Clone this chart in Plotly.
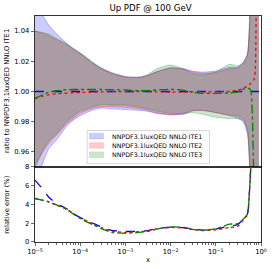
import plotly.graph_objects as go
from plotly.subplots import make_subplots

# ---------------- data ----------------
x = [1e-5, 1.5e-5, 2e-5, 3e-5, 5e-5, 7e-5, 1e-4, 2e-4, 3e-4, 5e-4, 1e-3, 2e-3, 3e-3, 5e-3,
     1e-2, 2e-2, 3e-2, 5e-2, 0.1, 0.2, 0.3, 0.4, 0.5, 0.55, 0.6, 0.7, 0.75, 0.8, 0.9]

ite1_up = [1.060, 1.050, 1.044, 1.038, 1.032, 1.0285, 1.0255, 1.0185, 1.0155, 1.0125, 1.0100, 1.0095, 1.0105, 1.0132,
           1.0158, 1.0150, 1.0135, 1.0128, 1.0135, 1.0160, 1.0160, 1.0190, 1.0250, 1.042, 1.08, 1.16, 1.22, 1.30, 1.50]
ite1_lo = [0.940, 0.953, 0.962, 0.968, 0.977, 0.981, 0.984, 0.988, 0.989, 0.9885, 0.988, 0.9875, 0.987, 0.9855,
           0.9845, 0.985, 0.987, 0.9875, 0.986, 0.984, 0.9825, 0.980, 0.972, 0.955, 0.920, 0.840, 0.780, 0.700, 0.500]
ite1_c = [1.0] * len(x)

ite2_up = [1.040, 1.0385, 1.037, 1.0345, 1.031, 1.028, 1.025, 1.018, 1.015, 1.012, 1.0095, 1.0092, 1.0103, 1.013,
           1.0155, 1.0145, 1.013, 1.012, 1.0125, 1.015, 1.0155, 1.018, 1.024, 1.040, 1.070, 1.150, 1.22, 1.30, 1.50]
ite2_lo = [0.950, 0.960, 0.9653, 0.971, 0.9785, 0.982, 0.9855, 0.989, 0.990, 0.990, 0.9895, 0.9885, 0.9875, 0.9857,
           0.9846, 0.9855, 0.9875, 0.9875, 0.986, 0.9845, 0.984, 0.982, 0.975, 0.960, 0.930, 0.850, 0.780, 0.700, 0.500]
ite2_c = [0.9957, 0.997, 0.9978, 0.9985, 0.9989, 0.9991, 0.9993, 0.9996, 0.9998, 0.9999, 1.0, 1.0, 1.0, 0.9998,
          0.9996, 0.9996, 0.9997, 0.9998, 0.9998, 1.0, 1.0008, 1.002, 1.0035, 1.0045, 1.0055, 1.008, 1.015, 1.20, 1.40]

ite3_up = [1.040, 1.039, 1.038, 1.035, 1.0315, 1.0285, 1.0255, 1.019, 1.015, 1.0118, 1.0095, 1.0095, 1.011, 1.015,
           1.0175, 1.0148, 1.012, 1.011, 1.013, 1.018, 1.017, 1.019, 1.024, 1.040, 1.070, 1.150, 1.22, 1.30, 1.50]
ite3_lo = [0.951, 0.961, 0.967, 0.972, 0.980, 0.9835, 0.987, 0.990, 0.9915, 0.991, 0.991, 0.9895, 0.9885, 0.987,
           0.9855, 0.9855, 0.986, 0.985, 0.983, 0.982, 0.982, 0.981, 0.975, 0.958, 0.930, 0.850, 0.780, 0.700, 0.500]
ite3_c = [0.995, 0.998, 0.9995, 1.0005, 1.0012, 1.0013, 1.0013, 1.0013, 1.0013, 1.0012, 1.001, 1.0005, 1.0005, 1.001,
          1.0014, 1.0008, 0.9995, 0.9988, 0.9987, 0.999, 0.9995, 1.0015, 1.002, 1.002, 1.0, 0.93, 0.85, 0.80, 0.70]

err1 = [6.6, 5.6, 4.8, 4.1, 3.55, 3.0, 2.6, 1.95, 1.6, 1.25, 1.12, 1.15, 1.22, 1.42,
        1.58, 1.52, 1.38, 1.27, 1.38, 1.7, 1.85, 2.4, 3.0, 5.0, 8.5, 15, 20, 25, 30]
err2 = [4.64, 4.45, 4.25, 3.93, 3.5, 3.05, 2.6, 1.88, 1.52, 1.17, 1.03, 1.1, 1.18, 1.4,
        1.55, 1.48, 1.33, 1.22, 1.3, 1.55, 1.65, 2.3, 2.9, 5.0, 8.5, 15, 20, 25, 30]
err3 = [4.64, 4.45, 4.3, 3.95, 3.5, 3.0, 2.5, 1.8, 1.4, 1.02, 0.93, 1.02, 1.12, 1.38,
        1.6, 1.55, 1.35, 1.25, 1.4, 1.9, 1.95, 2.4, 3.0, 5.0, 8.5, 15, 20, 25, 30]

names = ["NNPDF3.1luxQED NNLO ITE1", "NNPDF3.1luxQED NNLO ITE2", "NNPDF3.1luxQED NNLO ITE3"]
x_tickvals = [1e-5, 1e-4, 1e-3, 1e-2, 1e-1, 1]
x_ticktext = ["10<sup>−5</sup>", "10<sup>−4</sup>", "10<sup>−3</sup>", "10<sup>−2</sup>", "10<sup>−1</sup>", "10<sup>0</sup>"]
top_ticks = [0.96, 0.98, 1.00, 1.02, 1.04]
bot_ticks = [0, 2, 4, 6, 8]

# ---------------- styles ----------------
rgb = [(0, 0, 255), (255, 0, 0), (0, 128, 0)]
dashes = ["dash", "dot", "dashdot"]
FONT = "DejaVu Sans"

fig = make_subplots(rows=2, cols=1, shared_xaxes=True, row_heights=[0.668, 0.332], vertical_spacing=0)

bands = [(ite1_lo, ite1_up, ite1_c, err1), (ite2_lo, ite2_up, ite2_c, err2), (ite3_lo, ite3_up, ite3_c, err3)]
for i, (lo, up, c, err) in enumerate(bands):
    r, g, b = rgb[i]
    fill = f"rgba({r},{g},{b},0.2)"
    edge = f"rgba({r},{g},{b},0.35)"
    fig.add_trace(go.Scatter(x=x, y=lo, mode="lines", line=dict(color=edge, width=0.8, shape="spline", smoothing=0.6),
                             showlegend=False, hoverinfo="skip"), row=1, col=1)
    fig.add_trace(go.Scatter(x=x, y=up, mode="lines", fill="tonexty", fillcolor=fill,
                             line=dict(color=edge, width=0.8, shape="spline", smoothing=0.6),
                             name=names[i], showlegend=False), row=1, col=1)

for i, (lo, up, c, err) in enumerate(bands):
    r, g, b = rgb[i]
    col = f"rgb({r},{g},{b})"
    fig.add_trace(go.Scatter(x=x, y=c, mode="lines", line=dict(color=col, width=1.3, dash=dashes[i], shape="spline", smoothing=0.6),
                             showlegend=False), row=1, col=1)
for i, (lo, up, c, err) in enumerate(bands):
    r, g, b = rgb[i]
    col = f"rgb({r},{g},{b})"
    fig.add_trace(go.Scatter(x=x, y=err, mode="lines", line=dict(color=col, width=1.3, dash=dashes[i], shape="spline", smoothing=0.6),
                             showlegend=False), row=2, col=1)

minor_vals = [k * 10 ** d for d in range(-5, 0) for k in range(2, 10)]

axis_common = dict(showline=True, linecolor="black", linewidth=0.8, mirror=True, showgrid=False, zeroline=False)
fig.update_xaxes(type="log", range=[-5, 0], **axis_common)
fig.update_xaxes(showticklabels=False, ticks="", row=1, col=1)
fig.update_xaxes(tickvals=x_tickvals, ticktext=x_ticktext, ticks="outside", ticklen=3.5, tickwidth=0.8,
                 tickfont=dict(size=6.8, color="black", family=FONT),
                 minor=dict(tickvals=minor_vals, ticks="outside", ticklen=2, tickwidth=0.6, tickcolor="black"),
                 row=2, col=1)
fig.update_yaxes(range=[0.95, 1.05], tickvals=top_ticks, ticktext=[f"{v:.2f}" for v in top_ticks],
                 ticks="outside", ticklen=3.5, tickwidth=0.8, tickfont=dict(size=6.8, color="black", family=FONT),
                 row=1, col=1, **axis_common)
fig.update_yaxes(range=[0, 8], tickvals=bot_ticks, ticks="outside", ticklen=3.5, tickwidth=0.8,
                 tickfont=dict(size=6.8, color="black", family=FONT), row=2, col=1, **axis_common)

L, R, T, B = 35, 13, 15, 27
W, H = 279, 269
pw, ph = W - L - R, H - T - B

def px(xp):
    return (xp - L) / pw

def py(yp):
    return (H - B - yp) / ph

annotations = [
    dict(text="ratio to NNPDF3.1luxQED NNLO ITE1", x=px(7), y=py(90.8), textangle=-90, font=dict(size=6.8)),
    dict(text="relative error (%)", x=px(7), y=py(204), textangle=-90, font=dict(size=6.8)),
    dict(text="x", x=px(150), y=py(260), font=dict(size=6.8)),
]
shapes = [dict(type="rect", xref="paper", yref="paper", x0=px(88.3), x1=px(213.3), y0=py(163.3), y1=py(130),
               fillcolor="rgba(255,255,255,0.8)", line=dict(color="#cccccc", width=0.8), layer="above")]
row_y = [135.7, 145.0, 154.3]
for i in range(3):
    r, g, b = rgb[i]
    shapes.append(dict(type="rect", xref="paper", yref="paper", x0=px(90.7), x1=px(105), y0=py(row_y[i] + 2.8),
                       y1=py(row_y[i] - 2.8), fillcolor=f"rgba({r},{g},{b},0.2)",
                       line=dict(color=f"rgba({r},{g},{b},0.2)", width=0.6), layer="above"))
    annotations.append(dict(text=names[i], x=px(111.3), y=py(row_y[i]), xanchor="left", font=dict(size=6.3)))

for a in annotations:
    a.setdefault("xanchor", "center")
    a.update(xref="paper", yref="paper", yanchor="middle", showarrow=False)
    a["font"].update(family=FONT, color="black")

fig.update_layout(
    width=W, height=H, margin=dict(l=L, r=R, t=T, b=B),
    paper_bgcolor="white", plot_bgcolor="white",
    title=dict(text="Up PDF @ 100 GeV", x=(150.5) / W, xanchor="center", y=1 - 8 / H, yanchor="middle",
               font=dict(size=8.6, family=FONT, color="black")),
    showlegend=False, annotations=annotations, shapes=shapes,
    font=dict(family=FONT, color="black"), hovermode=False,
)

fig.write_html("out.html", config={"displayModeBar": False, "staticPlot": True},
               post_script="document.body.style.margin='0';document.body.style.padding='0';")
